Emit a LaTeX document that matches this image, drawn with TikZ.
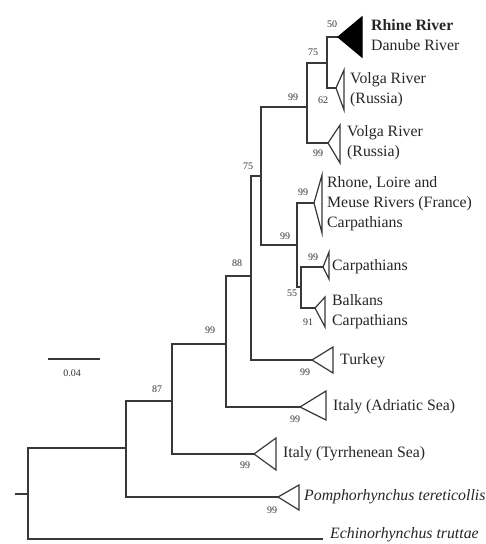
\documentclass[tikz,border=0pt]{standalone}
\usepackage{fontspec}
\setmainfont{Liberation Serif}
\begin{document}
\begin{tikzpicture}[x=1pt,y=-1pt,
  br/.style={draw=black!78,line width=1.2pt},
  clade/.style={draw=black!78,line width=1.2pt,fill=white,line join=miter},
  blackclade/.style={draw=black,line width=1.2pt,fill=black},
  taxon/.style={anchor=west,inner sep=0pt,text=black!85,align=left,
    font=\fontsize{15.8}{20}\selectfont},
  boot/.style={inner sep=0pt,text=black!80,font=\fontsize{10}{12}\selectfont}]
\useasboundingbox (0,0) rectangle (486,544);
\clip (0,0) rectangle (486,544);
\fill[white] (0,0) rectangle (486,544);
% internal nodes
\coordinate (r0) at (15,494);
\coordinate (A) at (28,494);
\coordinate (B) at (126,448);
\coordinate (C) at (172,401);
\coordinate (D) at (226,344);
\coordinate (E) at (251,276);
\coordinate (F) at (261,176);
\coordinate (G) at (307,107);
\coordinate (H) at (327,63);
\coordinate (I) at (297,245);
\coordinate (J) at (301,287);
% tips (triangle apexes)
\coordinate (rhine) at (338,37);
\coordinate (volgaA) at (336,88);
\coordinate (volgaB) at (328,143);
\coordinate (rhone) at (314,203);
\coordinate (carp) at (323,267);
\coordinate (balk) at (315,308);
\coordinate (turk) at (312,360);
\coordinate (adri) at (300,407);
\coordinate (tyrr) at (254,454);
\coordinate (pomph) at (278,497);
\coordinate (echi) at (323,539);
% branches
\draw[br] (r0) -- (A);
\draw[br] (B) -| (A) |- (echi);
\draw[br] (C) -| (B) |- (pomph);
\draw[br] (D) -| (C) |- (tyrr);
\draw[br] (E) -| (D) |- (adri);
\draw[br] (F) -| (E) |- (turk);
\draw[br] (G) -| (F) |- (I);
\draw[br] (H) -| (G) |- (volgaB);
\draw[br] (rhine) -| (H) |- (volgaA);
\draw[br] (rhone) -| (I) |- (J);
\draw[br] (carp) -| (J) |- (balk);
% collapsed clades
\draw[blackclade] (rhine) -- (362,17) -- (362,57) -- cycle;
\draw[clade] (volgaA) -- (344,70) -- (344,110) -- cycle;
\draw[clade] (volgaB) -- (340,125) -- (340,163) -- cycle;
\draw[clade] (rhone) -- (322,175) -- (322,233) -- cycle;
\draw[clade] (carp) -- (329,252) -- (329,279) -- cycle;
\draw[clade] (balk) -- (325,297) -- (325,327) -- cycle;
\draw[clade] (turk) -- (333,347) -- (333,373) -- cycle;
\draw[clade] (adri) -- (326,391) -- (326,420) -- cycle;
\draw[clade] (tyrr) -- (276,438) -- (276,470) -- cycle;
\draw[clade] (pomph) -- (299,485) -- (299,510) -- cycle;
% taxon labels
\node[taxon] (tRhine) at (371,35.5) {\textbf{Rhine River}\\Danube River};
\node[taxon] (tVolgaA) at (350,89.5) {Volga River\\(Russia)};
\node[taxon] (tVolgaB) at (347,143) {Volga River\\(Russia)};
\node[taxon] (tRhone) at (327,203.5) {Rhone, Loire and\\Meuse Rivers (France)\\Carpathians};
\node[taxon] (tCarp) at (332,267) {Carpathians};
\node[taxon] (tBalk) at (332,312) {Balkans\\Carpathians};
\node[taxon] (tTurk) at (340,361) {Turkey};
\node[taxon] (tAdri) at (333,407) {Italy (Adriatic Sea)};
\node[taxon] (tTyrr) at (283,454) {Italy (Tyrrhenean Sea)};
\node[taxon] (tPomph) at (304,497) {\itshape Pomphorhynchus tereticollis};
\node[taxon] (tEchi) at (330,535) {\itshape Echinorhynchus truttae};
% bootstrap values
\node[boot] (b1) at (332,24) {50};
\node[boot] (b2) at (313,52) {75};
\node[boot] (b3) at (323,100) {62};
\node[boot] (b4) at (293,97) {99};
\node[boot] (b5) at (318,153) {99};
\node[boot] (b6) at (248,166) {75};
\node[boot] (b7) at (303,192) {99};
\node[boot] (b8) at (285,236) {99};
\node[boot] (b9) at (313,257) {99};
\node[boot] (b10) at (292,293) {55};
\node[boot] (b11) at (308,322) {91};
\node[boot] (b12) at (237,263) {88};
\node[boot] (b13) at (305,372) {99};
\node[boot] (b14) at (210,330) {99};
\node[boot] (b15) at (295,419) {99};
\node[boot] (b16) at (157,389) {87};
\node[boot] (b17) at (245,465) {99};
\node[boot] (b18) at (272,510) {99};
% scale bar
\coordinate (s0) at (48,359);
\coordinate (s1) at (100,359);
\draw[br] (s0) -- (s1);
\node[boot] (sl) at (72,373) {0.04};
\end{tikzpicture}
\end{document}
